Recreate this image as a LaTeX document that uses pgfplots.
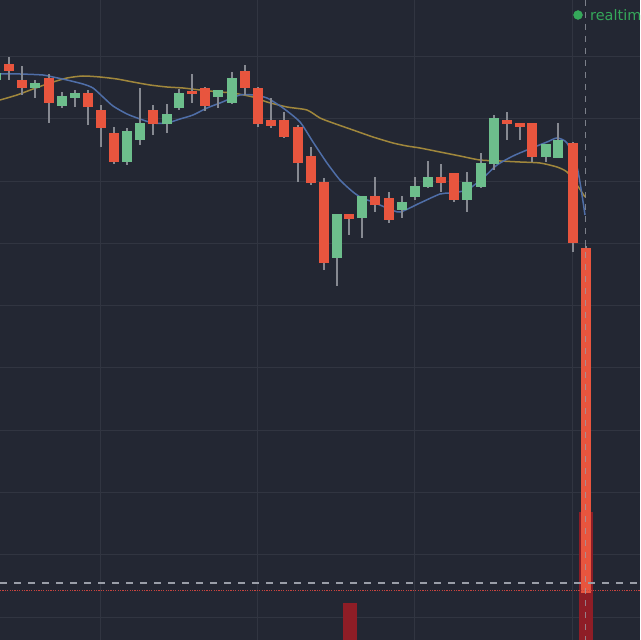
\documentclass[border=0pt]{standalone}
\usepackage{pgfplots}
\pgfplotsset{compat=1.18}
\usepackage{pgfplotstable}
\usepackage{fontspec}
\newfontfamily\dejavu{DejaVu Sans}
\definecolor{bg}{HTML}{232733}
\definecolor{gridc}{HTML}{313541}
\definecolor{candlered}{HTML}{E8553E}
\definecolor{candlegreen}{HTML}{6DBE8C}
\definecolor{wickc}{HTML}{868991}
\definecolor{mablue}{HTML}{4F6EA8}
\definecolor{magold}{HTML}{A0873C}
\definecolor{volred}{HTML}{8E1D26}
\definecolor{rtgreen}{HTML}{35A85A}
\definecolor{dashc}{HTML}{9A9EA8}
\definecolor{dotred}{HTML}{C8443F}

% pixel-space candles: x, body top, body bottom, high, low
\pgfplotstableread{
x bt bb hi lo
9 64 71 57 80
22 80 88 66 95
49 78 103 74 123
88 93 107 90 125
101 110 128 105 147
114 133 162 127 164
153 110 124 105 135
192 91 94 74 103
205 88 106 87 111
245 71 88 65 95
258 88 124 87 127
271 120 126 98 128
284 120 137 112 138
298 127 163 125 182
311 156 183 147 185
324 182 263 178 270
349 214 219 214 235
375 196 205 177 212
389 198 220 192 223
441 177 183 164 192
454 173 200 173 202
507 120 124 112 140
520 123 127 123 140
532 123 157 123 162
573 143 243 142 252
586 248 593 246 593
}\redc

\pgfplotstableread{
x bt bb hi lo
-4 73 80 70 82
35 83 88 80 98
62 96 106 92 108
75 93 98 90 107
127 131 162 128 165
140 123 140 88 145
167 114 124 104 133
179 93 108 89 110
218 90 97 90 108
232 78 103 72 104
337 214 258 214 286
362 196 218 196 238
402 202 210 196 218
415 186 197 177 200
428 177 187 161 188
467 182 200 172 212
481 163 187 153 188
494 118 164 115 170
546 144 157 144 162
558 140 158 123 158
}\greenc

\pgfplotstableread{
x top bot
350 603 640
585.5 512 640
}\vol

\begin{document}
\begin{tikzpicture}
\begin{axis}[
  name=ax,
  scale only axis, width=640bp, height=640bp,
  xmin=0, xmax=640, ymin=0, ymax=640, y dir=reverse,
  axis background/.style={fill=bg},
  axis line style={draw=none},
  xtick={100,257,414.5,572},
  ytick={57,119,181,243,305,367,430,492,554,617},
  xmajorticks=false, ymajorticks=false,
  grid=major,
  major grid style={draw=gridc, line width=1bp},
  clip=true,
]
% volume
\addplot[draw=none, mark=none, forget plot,
  error bars/.cd, y dir=both, y explicit, error mark=none,
  error bar style={draw=volred, line width=14bp, solid}]
  table[x=x, y expr={(\thisrow{top}+\thisrow{bot})/2}, y error expr={(\thisrow{bot}-\thisrow{top})/2}] {\vol};

% moving averages
\addplot[magold, line width=1.5bp, mark=none, smooth, tension=0.4] coordinates {
(0,100) (17,95) (33,89) (50,83) (67,78) (83,76) (100,77) (117,79) (133,82) (150,85)
(167,87) (183,88) (200,90) (220,92) (233,93) (253,97) (267,102) (287,107) (307,110)
(320,118) (333,123) (353,130) (373,137) (393,143) (407,146) (420,148) (440,152)
(460,156) (480,160) (500,161) (520,162) (540,163) (557,167) (567,172) (577,185) (585,197)
};
\addplot[mablue, line width=1.5bp, mark=none, smooth, tension=0.4] coordinates {
(0,74) (20,74) (43,75) (53,77) (67,80) (83,84) (93,88) (103,97) (113,106) (127,114)
(140,119) (153,123) (167,123) (180,119) (193,115) (207,108) (220,103) (240,95) (253,95)
(267,98) (283,108) (300,122) (313,142) (327,163) (340,180) (353,192) (362,198) (373,202)
(387,208) (400,212) (420,203) (440,194) (450,193) (467,190) (483,178) (497,165)
(513,156) (527,150) (547,142) (557,138) (567,143) (577,167) (582,195) (585,215)
};

% wicks
\addplot[draw=none, mark=none, forget plot,
  error bars/.cd, y dir=both, y explicit, error mark=none,
  error bar style={draw=wickc, line width=1.2bp, solid}]
  table[x=x, y expr={(\thisrow{hi}+\thisrow{lo})/2}, y error expr={(\thisrow{lo}-\thisrow{hi})/2}] {\redc};
\addplot[draw=none, mark=none, forget plot,
  error bars/.cd, y dir=both, y explicit, error mark=none,
  error bar style={draw=wickc, line width=1.2bp, solid}]
  table[x=x, y expr={(\thisrow{hi}+\thisrow{lo})/2}, y error expr={(\thisrow{lo}-\thisrow{hi})/2}] {\greenc};

% bodies
\addplot[draw=none, mark=none, forget plot,
  error bars/.cd, y dir=both, y explicit, error mark=none,
  error bar style={draw=candlered, line width=10bp, solid}]
  table[x=x, y expr={(\thisrow{bt}+\thisrow{bb})/2}, y error expr={(\thisrow{bb}-\thisrow{bt})/2}] {\redc};
\addplot[draw=none, mark=none, forget plot,
  error bars/.cd, y dir=both, y explicit, error mark=none,
  error bar style={draw=candlegreen, line width=10bp, solid}]
  table[x=x, y expr={(\thisrow{bt}+\thisrow{bb})/2}, y error expr={(\thisrow{bb}-\thisrow{bt})/2}] {\greenc};

% price lines
\addplot[dotred, line width=1bp, dash pattern=on 1.2bp off 1.2bp, mark=none] coordinates {(0,590) (640,590)};
\addplot[dashc, line width=1.3bp, dash pattern=on 7bp off 7bp, mark=none] coordinates {(0,583) (640,583)};
% crosshair
\addplot[dashc, opacity=0.75, line width=1.3bp, dash pattern=on 6bp off 6bp, mark=none] coordinates {(585.5,0) (585.5,640)};

% realtime marker
\addplot[only marks, mark=*, mark size=4.5bp, rtgreen, mark options={draw=rtgreen, fill=rtgreen}] coordinates {(578,15)};
\node[anchor=west, text=rtgreen, inner sep=0, font=\dejavu\fontsize{14.5}{16}\selectfont] at (axis cs:590,15) {realtime};
\end{axis}
\pgfresetboundingbox
\path[use as bounding box] (ax.south west) rectangle (ax.north east);
\end{tikzpicture}
\end{document}
